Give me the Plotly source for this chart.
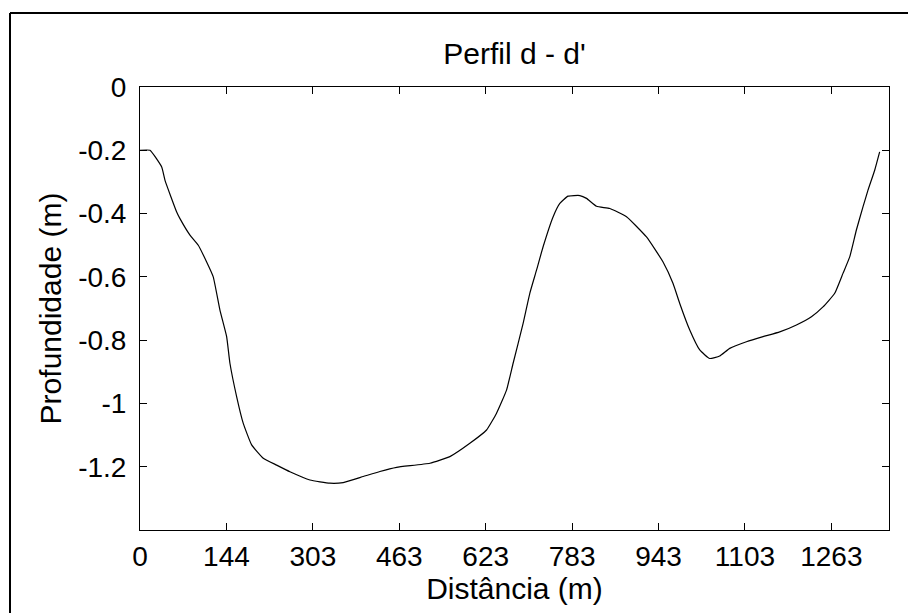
import plotly.graph_objects as go

# Distance along the profile (axis units; ticks are evenly spaced and labelled below)
dist = [0, 18.5, 40.2, 46.3, 67.9, 74.0, 92.5, 107.9, 123.4, 135.6, 148.0, 160.4,
        166.5, 179.0, 191.2, 206.7, 228.2, 253.0, 277.6, 314.6, 351.6, 376.2,
        413.2, 444.1, 475.1, 536.7, 573.7, 610.7, 641.6, 660.1, 678.6, 690.8,
        709.3, 721.7, 734.1, 746.3, 764.9, 777.3, 792.6, 814.3, 826.7, 845.2,
        869.8, 900.7, 937.7, 968.4, 986.9, 999.3, 1017.8, 1036.3, 1054.8,
        1073.3, 1091.8, 1122.8, 1153.5, 1184.4, 1215.3, 1243.1, 1264.5, 1286.2,
        1301.5, 1314.0, 1326.3, 1338.5, 1347.8, 1360.2, 1369.4]

depth = [-0.200, -0.200, -0.253, -0.295, -0.395, -0.416, -0.468, -0.500, -0.553,
         -0.600, -0.705, -0.789, -0.873, -0.979, -1.063, -1.131, -1.173, -1.195,
         -1.216, -1.242, -1.252, -1.250, -1.231, -1.215, -1.202, -1.189, -1.168,
         -1.126, -1.084, -1.031, -0.958, -0.873, -0.747, -0.652, -0.579, -0.505,
         -0.410, -0.368, -0.345, -0.343, -0.352, -0.377, -0.384, -0.410, -0.474,
         -0.553, -0.621, -0.684, -0.768, -0.831, -0.858, -0.850, -0.826, -0.805,
         -0.789, -0.774, -0.752, -0.726, -0.695, -0.652, -0.589, -0.537, -0.452,
         -0.379, -0.326, -0.263, -0.205]

x_tick_labels = ["0", "144", "303", "463", "623", "783", "943", "1103", "1263"]
x_tick_pos = [0, 160, 320, 480, 640, 800, 960, 1120, 1280]
y_tick_vals = [0, -0.2, -0.4, -0.6, -0.8, -1.0, -1.2]
y_tick_labels = ["0", "-0.2", "-0.4", "-0.6", "-0.8", "-1", "-1.2"]

FONT = "Liberation Sans, Arial, sans-serif"

fig = go.Figure()
fig.add_trace(go.Scatter(x=dist, y=depth, mode="lines",
                         line=dict(color="black", width=1.2, shape="spline", smoothing=0.4),
                         showlegend=False, hoverinfo="skip"))

L, R, T, B = 140, 19, 87, 83
W, H = 908, 613
pw, ph = W - L - R, H - T - B

axis_common = dict(showgrid=False, zeroline=False, showline=True, linecolor="black",
                   linewidth=1, mirror="ticks", ticks="inside", ticklen=7,
                   tickcolor="black", tickwidth=1,
                   tickfont=dict(family=FONT, size=28, color="black"))

fig.update_xaxes(range=[0, 1386.7], tickvals=x_tick_pos, ticktext=x_tick_labels,
                 title=dict(text="Distância (m)", font=dict(family=FONT, size=30, color="black"),
                            standoff=3),
                 ticklabelstandoff=1, **axis_common)
fig.update_yaxes(range=[-1.4, 0], tickvals=y_tick_vals, ticktext=y_tick_labels,
                 title=dict(text="Profundidade (m)", font=dict(family=FONT, size=30, color="black"),
                            standoff=7),
                 ticklabelstandoff=7, **axis_common)

# outer frame lines (left and top edges of the figure window)
fx = (10 - L) / pw
fy = (H - B - 13) / ph
fig.add_shape(type="line", xref="paper", yref="paper", x0=fx, x1=fx, y0=fy, y1=-B / ph - 0.05,
              line=dict(color="black", width=2))
fig.add_shape(type="line", xref="paper", yref="paper", x0=fx, x1=(W - L) / pw + 0.05, y0=fy, y1=fy,
              line=dict(color="black", width=2))

fig.update_layout(
    width=W, height=H,
    margin=dict(l=L, r=R, t=T, b=B),
    paper_bgcolor="white", plot_bgcolor="white",
    title=dict(text="Perfil d - d'", x=(L + pw / 2) / W, xanchor="center",
               y=1 - 64 / H, yanchor="bottom",
               font=dict(family=FONT, size=30, color="black")),
)

fig.write_html("out.html")
